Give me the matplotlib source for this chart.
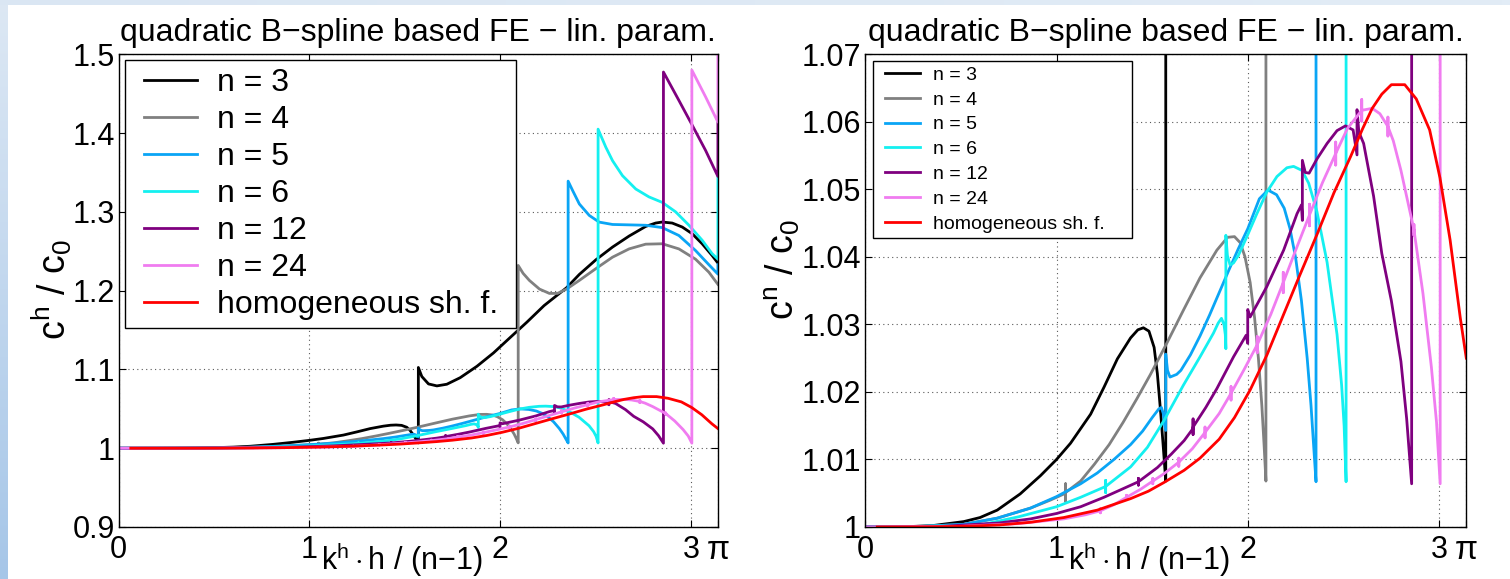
import numpy as np
import matplotlib
matplotlib.use("Agg")
import matplotlib.pyplot as plt
from matplotlib.colors import LinearSegmentedColormap
from matplotlib.legend_handler import HandlerLine2D
from matplotlib.lines import Line2D

plt.rcParams['font.family'] = ['Liberation Sans', 'DejaVu Sans']
plt.rcParams['mathtext.fontset'] = 'custom'
plt.rcParams['mathtext.rm'] = 'Liberation Sans'
plt.rcParams['mathtext.it'] = 'Liberation Sans:italic'
plt.rcParams['mathtext.bf'] = 'Liberation Sans:bold'

PI = np.pi

n3_pts = [
    (0.0, 1.0), (0.2, 1.00003), (0.35, 1.0002), (0.515, 1.0008), (0.6, 1.0014),
    (0.69, 1.0025), (0.81, 1.0049), (0.916, 1.0076), (1.0, 1.0100), (1.073, 1.0124),
    (1.178, 1.0167), (1.248, 1.0207), (1.318, 1.0249), (1.387, 1.0280), (1.425, 1.0292),
    (1.454, 1.0295), (1.483, 1.0290), (1.51, 1.0266), (1.527, 1.0227), (1.545, 1.0167),
    (1.558, 1.0118), (1.5708, 1.0068),
    (1.5708, 1.1025), (1.589, 1.0910), (1.624, 1.0816), (1.668, 1.0791), (1.720, 1.0812),
    (1.790, 1.0895), (1.878, 1.1040), (1.965, 1.1210), (2.050, 1.1400), (2.140, 1.1600),
    (2.230, 1.1810), (2.348, 1.2037), (2.415, 1.2206), (2.502, 1.2392), (2.589, 1.2553),
    (2.676, 1.2693), (2.763, 1.2815), (2.815, 1.2858), (2.850, 1.2871), (2.902, 1.2858),
    (2.955, 1.2807), (3.007, 1.2722), (3.059, 1.2595), (3.111, 1.2447), (3.1416, 1.2350),
]
n4_pts = [
    (0.0, 1.0), (0.3, 1.0001), (0.515, 1.0004), (0.689, 1.0013), (0.864, 1.0028),
    (0.969, 1.0040), (1.0472, 1.0050), (1.0472, 1.0064), (1.0472, 1.0038), (1.0472, 1.0051),
    (1.126, 1.0068), (1.198, 1.0093), (1.275, 1.0122), (1.348, 1.0155), (1.42, 1.0190),
    (1.489, 1.0225), (1.576, 1.0272), (1.663, 1.0321), (1.750, 1.0369), (1.838, 1.0410),
    (1.894, 1.0429), (1.930, 1.0430), (1.960, 1.0421), (1.985, 1.0400), (2.012, 1.0362),
    (2.035, 1.0310), (2.055, 1.0250), (2.073, 1.0180), (2.085, 1.0120), (2.0944, 1.0068),
    (2.0944, 1.2320), (2.120, 1.2220), (2.153, 1.2130), (2.206, 1.2020), (2.258, 1.1965),
    (2.300, 1.1965), (2.348, 1.2020), (2.415, 1.2130), (2.502, 1.2280), (2.589, 1.2425),
    (2.676, 1.2530), (2.763, 1.2590), (2.850, 1.2595), (2.937, 1.2530), (3.024, 1.2400),
    (3.094, 1.2235), (3.1416, 1.2080),
]
n5_pts = [
    (0.0, 1.0), (0.3, 1.0001), (0.515, 1.0004), (0.689, 1.0013), (0.864, 1.0028),
    (1.000, 1.0045), (1.126, 1.0064), (1.213, 1.0080), (1.300, 1.0100), (1.387, 1.0122),
    (1.450, 1.0142), (1.500, 1.0162), (1.535, 1.0175), (1.548, 1.0177), (1.558, 1.0168),
    (1.565, 1.0150), (1.5708, 1.0143),
    (1.5708, 1.0256), (1.580, 1.0232), (1.593, 1.0222), (1.628, 1.0226), (1.650, 1.0232),
    (1.700, 1.0255), (1.750, 1.0283), (1.800, 1.0314), (1.850, 1.0347), (1.900, 1.0380),
    (1.950, 1.0412), (2.000, 1.0442), (2.060, 1.0486), (2.105, 1.0499), (2.150, 1.0492),
    (2.190, 1.0472), (2.220, 1.0442), (2.250, 1.0398), (2.280, 1.0335), (2.310, 1.0250),
    (2.330, 1.0180), (2.345, 1.0115), (2.3562, 1.0067),
    (2.3562, 1.3390), (2.380, 1.3270), (2.415, 1.3100), (2.467, 1.2955), (2.519, 1.2870),
    (2.589, 1.2840), (2.676, 1.2835), (2.763, 1.2830), (2.850, 1.2800), (2.937, 1.2700),
    (3.024, 1.2510), (3.094, 1.2330), (3.1416, 1.2210), (3.1416, 1.2330),
]
n6_pts = [
    (0.0, 1.0), (0.3, 1.0001), (0.602, 1.0003), (0.800, 1.0015), (1.000, 1.0030),
    (1.126, 1.0044), (1.2566, 1.0060), (1.2566, 1.0069), (1.2566, 1.0051), (1.2566, 1.0060),
    (1.387, 1.0089), (1.475, 1.0118), (1.562, 1.0158), (1.663, 1.0210), (1.750, 1.0252),
    (1.820, 1.0287), (1.845, 1.0302), (1.862, 1.0309), (1.875, 1.0300), (1.882, 1.0285),
    (1.885, 1.0264),
    (1.885, 1.0432), (1.893, 1.0402), (1.907, 1.0388), (1.925, 1.0391), (1.950, 1.0402),
    (1.995, 1.0430), (2.047, 1.0464), (2.099, 1.0496), (2.152, 1.0519), (2.204, 1.0532),
    (2.239, 1.0534), (2.283, 1.0528), (2.318, 1.0509), (2.361, 1.0467), (2.414, 1.0392),
    (2.466, 1.0285), (2.490, 1.0210), (2.503, 1.0150), (2.5133, 1.0067),
    (2.5133, 1.4050), (2.554, 1.3820), (2.589, 1.3650), (2.641, 1.3460), (2.711, 1.3290),
    (2.780, 1.3190), (2.850, 1.3120), (2.920, 1.3000), (2.990, 1.2830), (3.059, 1.2640),
    (3.111, 1.2470), (3.1416, 1.2400), (3.1416, 1.3440),
]
n12_pts = [
    (0.0, 1.0), (0.4, 1.0001), (0.7, 1.0006), (0.864, 1.0012), (1.000, 1.0020),
    (1.126, 1.0030), (1.248, 1.0044), (1.350, 1.0057), (1.428, 1.0067), (1.428, 1.0072),
    (1.428, 1.0062), (1.428, 1.0067), (1.527, 1.0088), (1.600, 1.0108), (1.667, 1.0128),
    (1.7136, 1.0146), (1.7136, 1.0160), (1.7136, 1.0137), (1.7136, 1.0148), (1.780, 1.0177),
    (1.838, 1.0205), (1.925, 1.0252), (1.991, 1.0284), (1.9992, 1.0272), (1.9992, 1.0322),
    (2.012, 1.0311), (2.099, 1.0356), (2.187, 1.0410), (2.257, 1.0464), (2.280, 1.0477),
    (2.2848, 1.0454), (2.2848, 1.0543), (2.300, 1.0525), (2.320, 1.0524), (2.361, 1.0545),
    (2.414, 1.0568), (2.466, 1.0587), (2.510, 1.0594), (2.550, 1.0588), (2.5704, 1.0551),
    (2.5704, 1.0618), (2.580, 1.0585), (2.605, 1.0568), (2.657, 1.0490), (2.700, 1.0405),
    (2.750, 1.0335), (2.800, 1.0245), (2.830, 1.0160), (2.8560, 1.0064),
    (2.8560, 1.4775), (2.937, 1.4415), (3.007, 1.4100), (3.077, 1.3780), (3.1416, 1.3450),
    (3.1416, 1.4130),
]
n24_pts = [
    (0.0, 1.0), (0.5, 1.0001), (0.8, 1.0005), (1.038, 1.0012), (1.15, 1.0018),
    (1.229, 1.0024), (1.229, 1.0027), (1.229, 1.0021), (1.229, 1.0024),
    (1.300, 1.0033), (1.366, 1.0044), (1.366, 1.0047), (1.366, 1.0041), (1.366, 1.0044),
    (1.440, 1.0056), (1.503, 1.0068), (1.503, 1.0072), (1.503, 1.0064), (1.503, 1.0068),
    (1.562, 1.0079), (1.639, 1.0096), (1.639, 1.0102), (1.639, 1.0090), (1.639, 1.0096),
    (1.710, 1.0116), (1.776, 1.0140), (1.776, 1.0148), (1.776, 1.0132), (1.776, 1.0140),
    (1.850, 1.0168), (1.912, 1.0198), (1.912, 1.0208), (1.912, 1.0188), (1.912, 1.0198),
    (1.980, 1.0233), (2.049, 1.0270), (2.049, 1.0282), (2.049, 1.0258), (2.049, 1.0270),
    (2.120, 1.0315), (2.185, 1.0362), (2.185, 1.0377), (2.185, 1.0347), (2.185, 1.0362),
    (2.250, 1.0410), (2.322, 1.0462), (2.322, 1.0478), (2.322, 1.0446), (2.322, 1.0462),
    (2.390, 1.0510), (2.459, 1.0553), (2.459, 1.0570), (2.459, 1.0536), (2.459, 1.0553),
    (2.520, 1.0590), (2.595, 1.0617), (2.595, 1.0633), (2.595, 1.0601), (2.595, 1.0617),
    (2.650, 1.0620), (2.690, 1.0612), (2.732, 1.0593), (2.732, 1.0607), (2.732, 1.0579),
    (2.732, 1.0593), (2.760, 1.0572), (2.800, 1.0528), (2.868, 1.0440), (2.868, 1.0448),
    (2.868, 1.0432), (2.868, 1.0440), (2.915, 1.0346), (2.959, 1.0237), (2.986, 1.0155),
    (3.005, 1.0064),
    (3.005, 1.4800), (3.077, 1.4460), (3.1416, 1.4140), (3.1416, 1.6000),
]
homog_pts = [
    (0.063, 1.0), (0.3, 1.00002), (0.515, 1.0001), (0.7, 1.0003), (0.864, 1.0007),
    (1.038, 1.0014), (1.213, 1.0025), (1.387, 1.0042), (1.480, 1.0053), (1.562, 1.0066),
    (1.667, 1.0084), (1.750, 1.0102), (1.850, 1.0130), (1.930, 1.0162), (2.012, 1.0203),
    (2.100, 1.0255), (2.187, 1.0315), (2.270, 1.0372), (2.361, 1.0433), (2.450, 1.0495),
    (2.536, 1.0548), (2.600, 1.0590), (2.650, 1.0620), (2.700, 1.0641), (2.750, 1.0655),
    (2.820, 1.0655), (2.880, 1.0634), (2.950, 1.0588), (3.004, 1.0517), (3.057, 1.0425),
    (3.110, 1.0310), (3.1416, 1.0250),
]

series = [n3_pts, n4_pts, n5_pts, n6_pts, n12_pts, n24_pts, homog_pts]
labels = ["n = 3", "n = 4", "n = 5", "n = 6", "n = 12", "n = 24", "homogeneous sh. f."]
colors = ["#000000", "#808080", "#0AA5F5", "#14F0F0", "#7F007F", "#F07CF0", "#FF0000"]

x_ticks = [0, 1, 2, 3, PI]
x_ticklabels = ["0", "1", "2", "3", "\u03c0"]
left_yticks = [0.9, 1.0, 1.1, 1.2, 1.3, 1.4, 1.5]
left_yticklabels = ["0.9", "1", "1.1", "1.2", "1.3", "1.4", "1.5"]
right_yticks = [1.0, 1.01, 1.02, 1.03, 1.04, 1.05, 1.06, 1.07]
right_yticklabels = ["1", "1.01", "1.02", "1.03", "1.04", "1.05", "1.06", "1.07"]

TITLE = "quadratic B\u2212spline based FE \u2212 lin. param."
W, H = 1510, 579


class ShiftedLine(HandlerLine2D):
    """legend line that starts a bit to the right (MATLAB-like padding)"""
    def __init__(self, shift, **kw):
        super().__init__(**kw)
        self.shift = shift

    def create_artists(self, legend, orig_handle, xdescent, ydescent, width,
                       height, fontsize, trans):
        return super().create_artists(legend, orig_handle, xdescent - self.shift,
                                      ydescent, width - self.shift, height,
                                      fontsize, trans)


fig = plt.figure(figsize=(W / 100, H / 100), dpi=100)
fig.patch.set_facecolor("white")

# ── slide background strips ──────────────────────────────────────────────────
bg_cmap = LinearSegmentedColormap.from_list("bg", ["#DDE8F4", "#A6C6E8"])
bl = fig.add_axes([0, 0, 7 / W, 1])
bl.imshow(np.linspace(0, 1, 200)[:, None], aspect="auto", cmap=bg_cmap)
bl.axis("off")
bt = fig.add_axes([0, 1 - 5 / H, 1, 5 / H])
bt.imshow(np.linspace(0, 1, 200)[None, :], aspect="auto",
          cmap=LinearSegmentedColormap.from_list("bt", ["#DAE6F3", "#E2ECF6"]))
bt.axis("off")

panels = [
    dict(rect=[118.8 / W, 52 / H, 599.1 / W, 472.7 / H], ylim=(0.9, 1.5),
         yticks=left_yticks, yticklabels=left_yticklabels,
         ylabel=r"$\mathrm{c^h\ /\ c_0}$", ylab_xy=(52, 290),
         leg=dict(fs=23, x0=0.0103, top=0.988, w=0.6527, shift=7.6,
                  hl=2.0, ls=0.22, bp=0.25, tp=0.63)),
    dict(rect=[865.2 / W, 52 / H, 601.1 / W, 472.7 / H], ylim=(1.0, 1.07),
         yticks=right_yticks, yticklabels=right_yticklabels,
         ylabel=r"$\mathrm{c^n\ /\ c_0}$", ylab_xy=(782, 270),
         leg=dict(fs=14, x0=0.013, top=0.986, w=0.431, shift=5.1,
                  hl=2.16, ls=0.37, bp=0.27, tp=0.67)),
]

for p in panels:
    ax = fig.add_axes(p["rect"])
    handles = []
    for pts, lab, col in zip(series, labels, colors):
        xs = [q[0] for q in pts]
        ys = [q[1] for q in pts]
        ln, = ax.plot(xs, ys, color=col, lw=2.0, label=lab)
        handles.append(ln)

    ax.set_xlim(0, PI)
    ax.set_ylim(*p["ylim"])
    ax.set_xticks(x_ticks)
    ax.set_xticklabels(x_ticklabels, fontsize=22)
    ax.get_xticklabels()[-1].set_fontsize(24)
    ax.set_yticks(p["yticks"])
    ax.set_yticklabels(p["yticklabels"], fontsize=22)
    ax.tick_params(direction="in", top=True, right=True, length=5, width=0.8)
    ax.tick_params(axis="x", pad=6)
    ax.tick_params(axis="y", pad=3)
    ax.grid(True, color="0.35", lw=0.8, ls=(0, (1, 3)))
    for s in ax.spines.values():
        s.set_linewidth(1.0)

    ax.text(0.5, 1.029, TITLE, transform=ax.transAxes, ha="center",
            va="baseline", fontsize=23)

    lg = p["leg"]
    leg = ax.legend(handles=handles, loc="upper left",
                    bbox_to_anchor=(lg["x0"], 0, lg["w"], lg["top"]),
                    mode="expand", borderaxespad=0, fontsize=lg["fs"],
                    handlelength=lg["hl"], handletextpad=lg["tp"],
                    labelspacing=lg["ls"], borderpad=lg["bp"],
                    fancybox=False, framealpha=1, edgecolor="black",
                    handler_map={Line2D: ShiftedLine(lg["shift"])})
    leg.get_frame().set_linewidth(1.0)

    fig.text(p["ylab_xy"][0] / W, 1 - p["ylab_xy"][1] / H, p["ylabel"],
             rotation=90, ha="center", va="center", fontsize=27)
    x_center = p["rect"][0] * W + (402 - 118.8)
    fig.text(x_center / W, 1 - 570 / H, r"$\mathrm{k^h\cdot h\ /\ (n{-}1)}$",
             ha="center", va="baseline", fontsize=22)

fig.savefig("out.png", dpi=100)
